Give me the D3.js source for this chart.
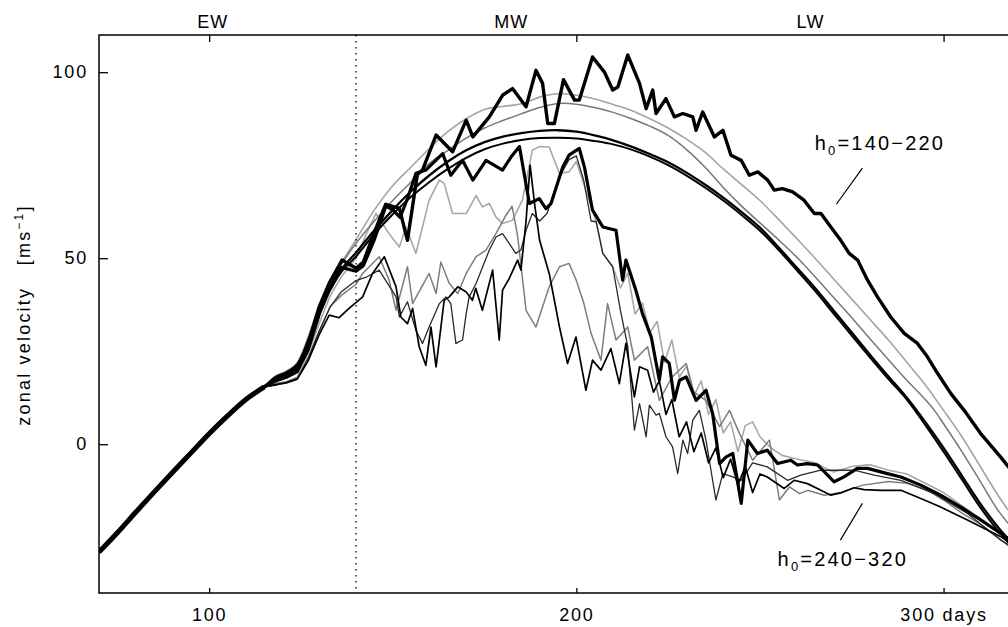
<!DOCTYPE html>
<html>
<head>
<meta charset="utf-8">
<script src="https://cdn.jsdelivr.net/npm/d3@7"></script>
<style>
  body { margin: 0; background: #fff; }
  text { font-family: "Liberation Sans", Arial, sans-serif; fill: #000; }
</style>
</head>
<body>
<div id="chart"></div>
<script>
// common early part of every run (days, m/s)
const early = [[70, -29], [75, -23.8], [80, -18.3], [85, -12.9], [90, -7.6], [95, -2.4], [100, 2.8],
  [105, 7.6], [110, 12], [115, 15.4]];

// h0 = 140-220 group
const uThick = [[118, 17.5], [121, 18.8], [124, 20.5], [127, 27], [130, 37], [132.7, 43.3], [136.2, 49.5], [140, 47.3],
  [142, 49], [145, 57], [148.1, 64.5], [151.8, 63.4], [154, 54.8], [156.7, 72.5], [158.1, 73.7], [161.8, 83.1],
  [166.3, 78.6], [170, 87.1], [171.8, 82.6], [176.3, 88], [179.9, 93.8], [182.6, 95.6], [186.3, 90.7], [189, 100.5],
  [190.8, 97], [192.2, 86.2], [194, 86.2], [196.5, 98], [199.5, 92.5], [200.8, 92.5], [204.4, 104.1], [207.6, 100.1],
  [209.9, 95.2], [211.3, 96], [214, 104.6], [217.2, 97], [219, 90.2], [220.8, 95.2], [221.7, 88.9], [224.4, 92.9],
  [226.7, 88], [229, 88.9], [231.7, 88], [232.6, 84.4], [234.4, 89.3], [237.6, 82.6], [239.9, 84.4], [242.1, 77.7],
  [244.9, 76.3], [247.1, 72.3], [249.4, 73.2], [252.1, 71], [253.9, 68.3], [256.1, 68.7], [258.9, 67.8], [262, 65.6],
  [264.8, 62], [266.6, 62], [269.3, 58.4], [272, 54.8], [274.3, 51.3], [276.6, 49.5], [279.3, 44.1], [282, 39.6],
  [285.6, 34.2], [289.3, 29.8], [292.9, 27.1], [295.6, 23.5], [298.4, 19], [302, 13.6], [305.6, 9.1], [310, 3],
  [315.5, -3.4], [320, -9]];
const black1 = [[118, 18], [121, 19.3], [124, 21.5], [127, 28], [130, 36.5], [133, 42], [136, 47], [140, 51.5],
  [145, 57.5], [150, 63], [155, 68], [160, 72.3], [165, 76], [170, 79], [175, 81.2], [180, 82.7], [185, 83.6],
  [190, 84.2], [195, 84.4], [200, 84], [205, 83], [210, 81.7], [215, 80], [220, 78], [225, 75.8], [230, 73],
  [235, 69.8], [240, 66.3], [245, 62.4], [250, 58.2], [255, 53], [260, 47.5], [265, 42], [270, 36], [275, 30],
  [280, 24], [285, 18.2], [290, 12.5], [295, 6], [300, -1], [305, -8.5], [310, -16], [315, -22.5], [320, -28]];
const black2 = [[118, 17.8], [121, 19], [124, 21], [127, 27.5], [130, 36], [133, 41.5], [136, 46.3], [140, 50.5],
  [145, 56.5], [150, 61.8], [155, 66.5], [160, 70.5], [165, 74], [170, 77], [175, 79.3], [180, 80.8], [185, 81.8],
  [190, 82.3], [195, 82.4], [200, 82.2], [205, 81.5], [210, 80.6], [215, 79.2], [220, 77.3], [225, 75], [230, 72.2],
  [235, 69], [240, 65.5], [245, 61.6], [250, 57.4], [255, 52.3], [260, 46.8], [265, 41.2], [270, 35.2], [275, 29.2],
  [280, 23.3], [285, 17.5], [290, 12], [295, 5.2], [300, -2], [305, -9.5], [310, -17], [315, -23.5], [320, -29]];
const grey1 = [[118, 18.3], [121, 19.6], [124, 22], [127, 29], [130, 37.5], [133, 43.5], [136, 48.8], [140, 55],
  [145, 63], [150, 69.5], [155, 74.5], [160, 79.5], [165, 84], [170, 87.5], [175, 90], [180, 90.8], [185, 91.5],
  [190, 93.3], [195, 94.2], [200, 93.8], [205, 92.8], [210, 91.3], [215, 89.7], [220, 87.5], [225, 85], [230, 82],
  [235, 78.5], [240, 74], [245, 69.8], [250, 65.5], [255, 60.5], [260, 55.3], [265, 50], [270, 44.5], [275, 39],
  [280, 33.5], [285, 28], [290, 22], [295, 16], [300, 9.1], [305, 2], [310, -6], [315, -14], [320, -21]];
const grey2 = [[118, 18], [121, 19.3], [124, 21.5], [127, 28.5], [130, 37], [133, 43], [136, 48.3], [140, 54],
  [145, 60], [150, 65.5], [155, 70.5], [160, 75.5], [165, 79], [170, 82.3], [175, 85], [180, 87], [185, 88.8],
  [190, 90.5], [195, 91.6], [200, 91.4], [205, 90.5], [210, 89.2], [215, 87.5], [220, 85.5], [225, 83], [230, 79.2],
  [235, 74.5], [240, 69], [245, 64], [250, 59.5], [255, 55], [260, 50.3], [265, 45], [270, 39.5], [275, 34],
  [280, 28.3], [285, 22.7], [290, 17.2], [295, 12], [297.5, 9.1], [300, 5.5], [305, -2], [310, -10], [315, -18], [320, -24]];

// h0 = 240-320 group
const lThick = [[118, 17], [121, 18], [124, 19.5], [127, 25.5], [130, 35], [132.7, 41.4], [136, 47.5], [140, 46.5],
  [142, 48], [145, 55], [148.1, 64], [150, 63], [152, 61], [154, 66], [156.3, 72.8], [159, 73.7], [163.6, 78.1],
  [165.8, 72.3], [169, 76.3], [171.8, 71], [175.4, 76.3], [179.9, 73.7], [182.2, 77.2], [184.5, 80], [187.2, 64.7],
  [189.9, 66], [191.7, 63.3], [193.1, 64.7], [196.3, 74.5], [198, 77.7], [200.8, 79.5], [202.2, 74.5], [204.4, 62.9],
  [207.2, 58.4], [210.8, 57.5], [212.6, 44.1], [213.5, 49.5], [216.2, 41.4], [218, 35.1], [220.4, 28.8], [222.6, 17.2],
  [223.5, 23.5], [225.3, 21.7], [226.7, 11.8], [228.1, 17.2], [229.9, 18.1], [232.6, 11.8], [235.3, 14.5], [237.1, 8.3],
  [239, -5.2], [240.8, -3.4], [242.6, -2.5], [244.9, -15.9], [246.7, 1.1], [249.3, -2.5], [252, -1.6], [254.8, -5.2],
  [258.4, -4.3], [260.2, -5.6], [262.9, -5.2], [265.7, -5.6], [267.5, -7.4], [270.2, -10.1], [272.9, -8.8],
  [276.5, -6.5], [279.3, -6.5], [284.7, -7.9], [288.4, -8.8], [293.8, -11], [299.2, -13.7], [304.7, -16.9],
  [310.2, -20.4], [315.6, -24], [320, -27]];
const lDark = [[118, 16], [121, 16.5], [124, 17.5], [127, 22.5], [130, 29.5], [132.7, 34.7], [135.4, 34], [138.1, 36.5],
  [141.8, 39.6], [144.5, 45.9], [147.7, 50.4], [150.9, 42.3], [152.2, 34.2], [154, 32.4], [155.4, 36.5], [157.2, 26.2],
  [159, 21.2], [160.4, 31.5], [161.8, 20.8], [164, 38.7], [165.4, 39.6], [167.7, 42.3], [170, 40.9], [171.7, 38.7],
  [172.6, 41.9], [174.4, 36], [177.2, 46.8], [179, 28], [179.9, 41.4], [181.7, 44.5], [184, 49.5], [184.9, 46.8],
  [186.3, 60], [187.4, 75], [188.7, 64], [190, 54.8], [192.6, 45.9], [195.4, 31.5], [197.6, 21.7], [199.9, 28.8],
  [202.6, 14.5], [204.4, 22.6], [206.7, 19.9], [209.4, 25.7], [211.7, 16.3], [213.5, 27.1], [215.8, 12.7],
  [217.2, 20.8], [219.4, 19.9], [221, 14], [222.6, 17], [224.4, 8], [226, 12], [228, 2], [230, 6], [232, -2],
  [234, 3], [236, -5], [238, -1], [240, -9], [242, -4], [244, -11], [246, -6], [248, -13], [250, -8], [252, -8.8],
  [256.6, -11.9], [259.3, -9.7], [262.9, -10.6], [266.6, -12.4], [269.3, -13.7], [272, -13.1], [275.6, -11.7],
  [278.4, -12.2], [282.9, -12.4], [288.4, -12.4], [293.8, -14.6], [299.2, -16.9], [306.5, -20.4], [315.6, -24.9],
  [320, -27.5]];
const lBlack2 = [[118, 15.8], [121, 16.6], [124, 17.6], [127, 23], [130, 30.5], [133, 37], [136, 41], [140, 44], [143, 45],
  [146.3, 46.8], [150.9, 39.6], [151.8, 34.2], [154, 38.3], [156.3, 30.6], [158.1, 27.1], [159.9, 31.5], [162.7, 37.8],
  [164.5, 39.6], [165.8, 37.8], [167.2, 27.1], [169, 28], [170, 35.1], [170.8, 39.6], [172.7, 43.2], [176.3, 52.2],
  [178.1, 55.7], [179.9, 56.6], [181.7, 54], [183.5, 51.3], [184.9, 52.2], [186.3, 57.5], [188, 62], [190, 60],
  [192, 62], [194, 68], [196, 73], [198, 76.5], [200, 77.5], [202, 71], [204, 60], [205.4, 59.8], [207.2, 51.3],
  [209.9, 47.7], [212, 36], [214, 26.2], [215.8, 3.8], [217.2, 10.9], [219, 2], [219.9, 10.5], [221.7, 7.8],
  [222.6, 8.3], [224.4, 2], [226.2, -0.7], [227.6, -7.9], [229, 1.1], [230.3, -2.5], [231.7, 6.5], [233.5, 9.1],
  [235.3, 1.1], [238, -15], [239.9, -7.9], [242.6, -8.8], [244.9, -9.7], [248, -5], [252, -6.1], [257.5, -9.7],
  [261.1, -8.3], [266.6, -7], [275.6, -7], [281.1, -8.3], [288.4, -9.7], [297.5, -13.3], [306.5, -18.6],
  [315.6, -25.8], [320, -28.5]];
const lGrey1 = [[118, 16.8], [121, 17.8], [124, 19.2], [127, 24.5], [130, 32.5], [133, 40], [136, 45], [140, 50], [143, 57],
  [145.4, 62], [149, 56.6], [151.8, 53], [153.6, 58.4], [156.3, 51.3], [158.1, 58.4], [159.9, 65.6], [162.7, 71],
  [164, 70.1], [166.3, 62], [170, 62], [172.7, 66.9], [174.4, 63.8], [176.3, 64.7], [178.1, 61.1], [179.9, 59.3],
  [182.6, 60.2], [185.3, 65.6], [188, 79], [190, 80], [192.6, 79.9], [195.4, 72.8], [198, 73.2], [200, 76], [202, 70],
  [205.4, 59.8], [207.2, 51.3], [209.9, 47.7], [212, 42], [214, 46], [216, 35], [218, 38], [220, 30], [222, 33],
  [224, 22], [226, 28], [228, 18], [230, 21], [232, 13], [234, 17], [236, 8], [238, 12], [240, 3], [242, 6],
  [244, -2], [246, 5], [248, 6], [250, 2], [253, -1], [256, -3], [260, -4], [265, -5], [270, -7.5], [275, -6],
  [280, -5.5], [285, -7], [290, -8], [295, -10.5], [300, -13], [305, -16.5], [310, -20], [316, -24.5], [320, -27.5]];
const lGrey2 = [[118, 16.3], [121, 16.8], [124, 18], [127, 23.5], [130, 30.5], [133, 37], [136, 40], [140, 43],
  [141.8, 45.9], [146.3, 50.4], [149, 44.1], [150.9, 36], [154, 47.7], [155.4, 37.8], [159.9, 45.9], [161.8, 40.5],
  [163.1, 49], [165.4, 43.2], [167.7, 40.5], [170, 45.9], [172.7, 50.4], [175.4, 52.2], [178.1, 56.6], [180.5, 61],
  [182.5, 64], [184, 56], [186.3, 36], [189, 31.5], [190.5, 36], [192.6, 42.3], [195.4, 47.7], [198, 48.6], [200, 44],
  [202, 38], [204, 29.8], [206.7, 22.6], [208.5, 37.8], [210.8, 28], [214, 31.5], [215.8, 22.6], [219.4, 26.2],
  [222.6, 11.8], [226, 18], [229.9, 21.7], [232, 14], [235.3, 11.8], [239, 4.7], [241.7, 9.1], [244.4, 2.9],
  [248, -4.3], [252.6, 1.1], [255.3, -15], [258, -11.5], [260.8, -13.3], [263, -12.4], [267.5, -13.7], [272, -13],
  [278, -11], [285, -10], [290, -10.5], [295, -12], [300, -15], [305, -18.5], [310, -21.5], [316, -26], [320, -29]];

// axis / annotation values
const yTicks = [0, 50, 100];
const xTicks = [100, 200, 300];
const phaseNames = ["EW", "MW", "LW"];
const phaseDays = [101, 182.3, 263.8];
const splitDay = 140;
const groupLabels = ["140\u2212220", "240\u2212320"];
const groupLabelPos = [[264.9, 79], [254.8, -32.8]];   // [day, value] of text start
const leaders = [[[277.9, 74.2], [270.8, 64.5]], [[277.9, -15.9], [271.9, -25.8]]];

const W = 1008, H = 627;
const margin = ({ top: 35, right: -9, bottom: 34, left: 99 });

const x = d3.scaleLinear().domain([70, 320]).range([margin.left, W - margin.right]);
const y = d3.scaleLinear().domain([-40, 110]).range([H - margin.bottom, margin.top]);

const svg = d3.select("#chart").append("svg")
    .attr("width", W)
    .attr("height", H);

svg.append("defs").append("clipPath").attr("id", "plot")
    .append("rect")
    .attr("x", x(70)).attr("y", y(110))
    .attr("width", x(320) - x(70)).attr("height", y(-40) - y(110));

const series = [
    { data: lGrey1, color: "#a8a8a8", w: 1.6, smooth: false },
    { data: lGrey2, color: "#7d7d7d", w: 1.5, smooth: false },
    { data: grey1, color: "#a4a4a4", w: 1.6, smooth: true },
    { data: grey2, color: "#777", w: 1.5, smooth: true },
    { data: lBlack2, color: "#2a2a2a", w: 1.3, smooth: false },
    { data: lDark, color: "#000", w: 1.7, smooth: false },
    { data: black1, color: "#000", w: 2.3, smooth: true },
    { data: black2, color: "#000", w: 2.0, smooth: true },
    { data: lThick, color: "#000", w: 3.2, smooth: false },
    { data: uThick, color: "#000", w: 3.4, smooth: false }
];

const lineSmooth = d3.line().x(d => x(d[0])).y(d => y(d[1])).curve(d3.curveCatmullRom);
const lineRough = d3.line().x(d => x(d[0])).y(d => y(d[1]));

const plot = svg.append("g").attr("clip-path", "url(#plot)");

// shared early trajectory, drawn as one heavy band
plot.append("path")
    .attr("fill", "none")
    .attr("stroke", "#000")
    .attr("stroke-width", 5)
    .attr("d", lineSmooth(early));

plot.selectAll(".run")
    .data(series)
    .enter().append("path")
    .attr("class", "run")
    .attr("fill", "none")
    .attr("stroke", d => d.color)
    .attr("stroke-width", d => d.w)
    .attr("stroke-linejoin", "round")
    .attr("d", d => (d.smooth ? lineSmooth : lineRough)(early.concat(d.data)));

// dotted divider
svg.append("line")
    .attr("x1", x(splitDay)).attr("x2", x(splitDay))
    .attr("y1", y(110)).attr("y2", y(-40))
    .attr("stroke", "#000")
    .attr("stroke-width", 1.3)
    .attr("stroke-dasharray", "1.5,4.5");

// frame
svg.append("rect")
    .attr("x", x(70)).attr("y", y(110))
    .attr("width", x(320) - x(70)).attr("height", y(-40) - y(110))
    .attr("fill", "none")
    .attr("stroke", "#000")
    .attr("stroke-width", 1.5);

const tickFont = g => g.selectAll("text")
    .style("font-family", "'Liberation Sans', Arial, sans-serif")
    .style("font-size", "18px")
    .style("letter-spacing", "1.8px");

svg.append("g")
    .attr("transform", "translate(" + x(70) + ",0)")
    .call(d3.axisLeft(y).tickValues(yTicks).tickSize(-9).tickPadding(11))
    .call(g => g.select(".domain").remove())
    .call(g => g.selectAll("line").attr("stroke-width", 1.3))
    .call(tickFont);

svg.append("g")
    .attr("transform", "translate(0," + y(-40) + ")")
    .call(d3.axisBottom(x).tickValues(xTicks).tickSize(-5).tickPadding(15)
        .tickFormat(d => d === 300 ? "300 days" : d))
    .call(g => g.select(".domain").remove())
    .call(g => g.selectAll("line").attr("stroke-width", 1.3))
    .call(tickFont);

svg.append("g")
    .attr("transform", "translate(0," + y(110) + ")")
    .call(d3.axisTop(x).tickValues(xTicks).tickSize(-7).tickFormat(""))
    .call(g => g.select(".domain").remove())
    .call(g => g.selectAll("line").attr("stroke-width", 1.3));

// phase labels above the frame
svg.append("g").selectAll("text")
    .data(phaseNames)
    .enter().append("text")
    .attr("x", (d, i) => x(phaseDays[i]))
    .attr("y", 28)
    .attr("text-anchor", "middle")
    .style("font-size", "18px")
    .style("letter-spacing", "1.2px")
    .text(d => d);

// y axis title
const yt = svg.append("text")
    .attr("transform", "translate(30," + 315 + ") rotate(-90)")
    .attr("text-anchor", "middle")
    .style("font-size", "18px")
    .style("letter-spacing", "2.2px")
    .style("white-space", "pre");
yt.append("tspan").text("zonal velocity   [ms");
yt.append("tspan").attr("dy", -7).style("font-size", "12px").text("\u22121");
yt.append("tspan").attr("dy", 7).text("]");

// group labels with leader lines
groupLabels.forEach(function (lab, i) {
    const t = svg.append("text")
        .attr("x", x(groupLabelPos[i][0]))
        .attr("y", y(groupLabelPos[i][1]))
        .style("font-size", "20px")
        .style("letter-spacing", "2.2px");
    t.append("tspan").text("h");
    t.append("tspan").attr("dy", 5).style("font-size", "13px").text("0");
    t.append("tspan").attr("dy", -5).text("=" + lab);

    svg.append("line")
        .attr("x1", x(leaders[i][0][0])).attr("y1", y(leaders[i][0][1]))
        .attr("x2", x(leaders[i][1][0])).attr("y2", y(leaders[i][1][1]))
        .attr("stroke", "#000")
        .attr("stroke-width", 1.2);
});
</script>
</body>
</html>
